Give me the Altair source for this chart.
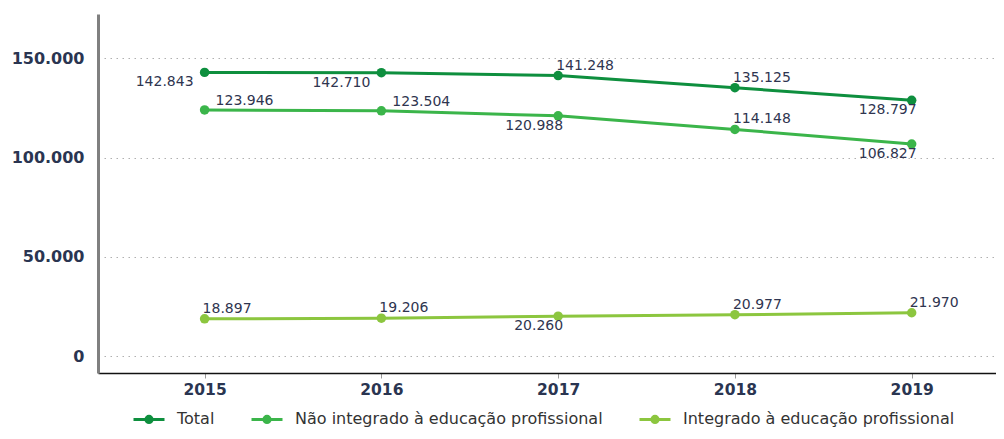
import altair as alt
import pandas as pd

years = [2015, 2016, 2017, 2018, 2019]
series_names = ["Total", "Não integrado à educação profissional", "Integrado à educação profissional"]
total = [142843, 142710, 141248, 135125, 128797]
nao_integrado = [123946, 123504, 120988, 114148, 106827]
integrado = [18897, 19206, 20260, 20977, 21970]
colors = ["#0e8f3e", "#3bb54a", "#8cc63f"]

# label placement per point (layout only)
total_pos = ["BL", "BL", "A", "A", "BR"]
nao_pos = ["AR", "AR", "BR", "A", "BR"]
int_pos = ["A", "A", "BR", "A", "A"]

rows = []
for name, vals, poss in zip(series_names, [total, nao_integrado, integrado], [total_pos, nao_pos, int_pos]):
    for y, v, p in zip(years, vals, poss):
        rows.append({"year": y, "value": v, "series": name,
                     "label": f"{v:,}".replace(",", "."), "pos": p})
df = pd.DataFrame(rows)

FONT = "DejaVu Sans"
TXT = "#2a3551"

x = alt.X("year:Q",
          scale=alt.Scale(domain=[2014.397, 2019.477], nice=False, zero=False),
          axis=alt.Axis(values=years, format="d", title=None, grid=False,
                        domainColor="#111111", domainWidth=1.5,
                        tickColor="#999999", tickSize=5, tickWidth=1,
                        labelFont=FONT, labelFontSize=15.5, labelFontWeight="bold",
                        labelColor=TXT, labelPadding=4))
y = alt.Y("value:Q",
          scale=alt.Scale(domain=[-8340, 172200], nice=False, zero=False),
          axis=alt.Axis(values=[0, 50000, 100000, 150000], title=None,
                        labelExpr="replace(format(datum.value, ','), ',', '.')",
                        domainColor="#808080", domainWidth=3, ticks=False,
                        grid=True, gridColor="#b0b0b0", gridDash=[1.5, 4.5], gridWidth=1.2,
                        labelFont=FONT, labelFontSize=16, labelFontWeight="bold",
                        labelColor=TXT, labelPadding=14))

color_scale = alt.Scale(domain=series_names, range=colors)

# stroked legend symbol: a bar with a (ring-filled) dot in the middle
sym = ("M-1,0L1,0 "
       "M-0.2,0A0.2,0.2 0 1,0 0.2,0A0.2,0.2 0 1,0 -0.2,0 "
       "M-0.1,0A0.1,0.1 0 1,0 0.1,0A0.1,0.1 0 1,0 -0.1,0")
legend = alt.Legend(title=None, orient="none", direction="horizontal",
                    legendX=34, legendY=388, padding=0,
                    symbolType=sym, symbolSize=961, symbolStrokeWidth=3,
                    symbolOpacity=1, labelLimit=0,
                    labelFont=FONT, labelFontSize=16, labelColor="#333333",
                    labelOffset=11, columnPadding=30)
color_enc = alt.Color("series:N", scale=color_scale, sort=series_names, legend=legend)

base = alt.Chart(df)

line = base.mark_line(strokeWidth=3).encode(x=x, y=y, color=color_enc)
pts = base.mark_circle(size=90, opacity=1).encode(x=x, y=y, color=color_enc)

placements = {
    "BL": dict(align="right", dx=-11, dy=10),
    "BR": dict(align="right", dx=5, dy=10),
    "AR": dict(align="left", dx=11, dy=-9),
    "A": dict(align="left", dx=-2, dy=-10),
}
texts = []
for key, opts in placements.items():
    texts.append(
        base.transform_filter(alt.datum.pos == key)
        .mark_text(baseline="middle", font=FONT, fontSize=14, color="#2f3550", **opts)
        .encode(x=x, y=y, text="label:N")
    )

chart = alt.layer(line, pts, *texts).properties(
    width=898, height=359,
    autosize=alt.AutoSizeParams(type="none"),
    padding={"left": 90, "top": 6, "right": 0, "bottom": 58},
).configure(background="white").configure_view(stroke="transparent", strokeWidth=0)

chart.save("out.html", embed_options={"renderer": "svg", "actions": False})
